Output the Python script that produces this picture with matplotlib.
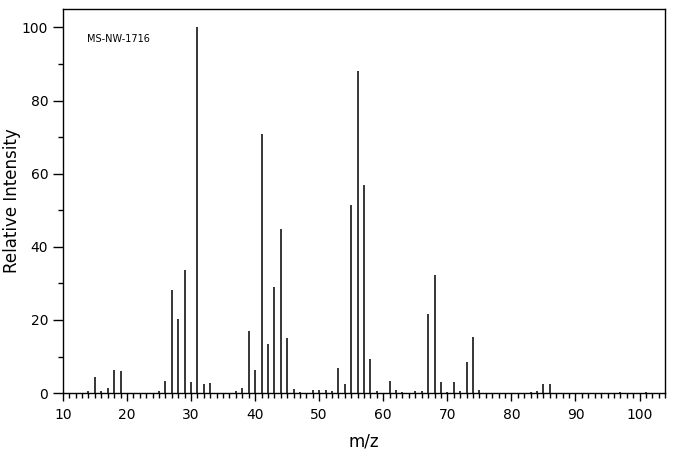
import matplotlib
matplotlib.use("Agg")
import matplotlib.pyplot as plt
from matplotlib.ticker import MultipleLocator

# m/z values and relative intensities
mz = [14, 15, 16, 17, 18, 19, 25, 26, 27, 28, 29, 30, 31, 32, 33,
      37, 38, 39, 40, 41, 42, 43, 44, 45, 46, 47, 49, 50, 51, 52,
      53, 54, 55, 56, 57, 58, 59, 61, 62, 63, 65, 66, 67, 68, 69,
      70, 71, 72, 73, 74, 75, 83, 84, 85, 86, 97, 101]
intensity = [0.6, 4.3, 0.5, 1.5, 6.4, 6.1, 0.5, 3.2, 28.1, 20.4, 33.8, 3.1, 100, 2.4, 2.8,
             0.6, 1.5, 17.1, 6.4, 70.8, 13.4, 29.0, 44.8, 15.0, 1.1, 0.4, 0.8, 0.8, 0.9, 0.5,
             6.9, 2.6, 51.4, 88.0, 56.8, 9.4, 0.6, 3.4, 0.9, 0.4, 0.6, 0.6, 21.5, 32.4, 3.1,
             0.4, 3.1, 0.6, 8.6, 15.4, 0.9, 0.4, 0.6, 2.6, 2.4, 0.3, 0.3]

fig = plt.figure(figsize=(6.76, 4.55), dpi=100)
ax = fig.add_axes([0.093, 0.136, 0.891, 0.844])

ax.vlines(mz, 0, intensity, colors="black", linewidth=1.1)

ax.set_xlim(10, 104)
ax.set_ylim(0, 105)
ax.xaxis.set_major_locator(MultipleLocator(10))
ax.xaxis.set_minor_locator(MultipleLocator(1))
ax.yaxis.set_major_locator(MultipleLocator(20))
ax.yaxis.set_minor_locator(MultipleLocator(10))
ax.tick_params(axis="x", which="major", length=6, width=1, labelsize=10, pad=4.5)
ax.tick_params(axis="x", which="minor", length=3.5, width=1)
ax.tick_params(axis="y", which="major", length=7, width=1, labelsize=10)
ax.tick_params(axis="y", which="minor", length=3.5, width=1)
for s in ax.spines.values():
    s.set_linewidth(1)

ax.set_xlabel("m/z", fontsize=12, labelpad=8)
ax.set_ylabel("Relative Intensity", fontsize=12, labelpad=1)
ax.text(0.04, 0.915, "MS-NW-1716", transform=ax.transAxes, fontsize=7)

fig.savefig("out.png", dpi=100)
